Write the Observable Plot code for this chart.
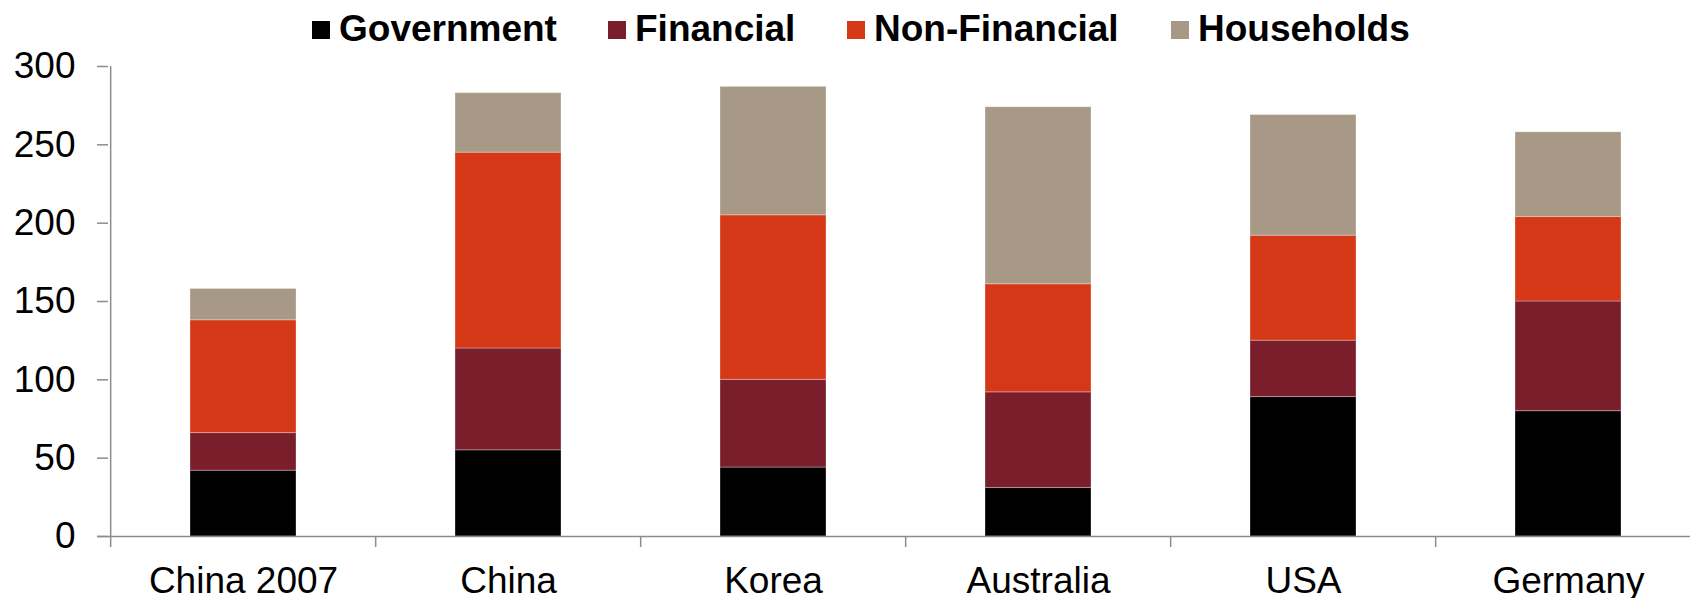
<!DOCTYPE html>
<html>
<head>
<meta charset="utf-8">
<script src="https://cdn.jsdelivr.net/npm/d3@7"></script>
<script src="https://cdn.jsdelivr.net/npm/@observablehq/plot@0.6"></script>
<style>
  html, body { margin: 0; padding: 0; background: #fff; width: 1690px; height: 598px; overflow: hidden; }
  #legend { position: relative; height: 50px; width: 1690px; font-family: "Liberation Sans", Arial, sans-serif; font-weight: bold; font-size: 37px; color: #000; }
  .item { position: absolute; top: 0; height: 50px; display: flex; align-items: center; white-space: nowrap; }
  .sw { width: 18px; height: 18px; margin-right: 9px; margin-top: 10px; }
  .lab { margin-top: 8px; }
  #chart svg { overflow: visible; }
</style>
</head>
<body>
<div id="legend"></div>
<div id="chart"></div>
<script>
const categories = ["China 2007", "China", "Korea", "Australia", "USA", "Germany"];
const seriesNames = ["Government", "Financial", "Non-Financial", "Households"];
const seriesColors = ["#000000", "#7B1E2B", "#D53817", "#A89986"];
const government   = [42, 55, 44, 31, 89, 80];
const financial    = [24, 65, 56, 61, 36, 70];
const nonFinancial = [72, 125, 105, 69, 67, 54];
const households   = [20, 38, 82, 113, 77, 54];
const yTicks = [0, 50, 100, 150, 200, 250, 300];

const seriesValues = [government, financial, nonFinancial, households];
const rows = [];
categories.forEach((c, i) => {
  seriesNames.forEach((s, j) => rows.push({category: c, series: s, value: seriesValues[j][i]}));
});

// legend
const legendX = [312, 608, 847, 1171];
const legend = document.getElementById("legend");
seriesNames.forEach((s, j) => {
  const it = document.createElement("div");
  it.className = "item";
  it.style.left = legendX[j] + "px";
  it.innerHTML = `<div class="sw" style="background:${seriesColors[j]}"></div><div class="lab">${s}</div>`;
  legend.appendChild(it);
});

const axisColor = "#8c8c8c";
const step = (1702 - 108) / categories.length;

const plot = Plot.plot({
  width: 1690,
  height: 548,
  marginLeft: 108,
  marginRight: -12,
  marginTop: 16,
  marginBottom: 62,
  style: {fontFamily: "'Liberation Sans', Arial, sans-serif", fontSize: "37px", color: "#000", background: "#fff"},
  x: {domain: categories, paddingInner: 0.6, paddingOuter: 0.3, label: null},
  y: {domain: [0, 300], label: null},
  color: {domain: seriesNames, range: seriesColors},
  marks: [
    Plot.barY(rows, Plot.stackY({
      x: "category", y: "value", fill: "series", order: seriesNames,
      stroke: "#ffffff", strokeOpacity: 0.3, strokeWidth: 1
    })),
    // y axis line (at the left boundary of the first category band)
    Plot.ruleX([categories[0]], {x: d => d, dx: -step / 2, y1: 0, y2: 300, stroke: axisColor, strokeWidth: 1.5}),
    Plot.ruleY([0], {stroke: axisColor, strokeWidth: 1.5, insetLeft: -11}),
    // category boundary ticks below the x axis
    Plot.ruleX(categories, {x: d => d, dx: -step / 2, y1: 0, y2: -7, stroke: axisColor, strokeWidth: 1.5}),
    Plot.axisY({ticks: yTicks, tickSize: 11, tickPadding: 22, stroke: axisColor, strokeWidth: 1.5, fill: "#000", fontSize: 37}),
    Plot.axisX({tickSize: 0, tickPadding: 30, fill: "#000", fontSize: 37})
  ]
});
document.getElementById("chart").appendChild(plot);
</script>
</body>
</html>
